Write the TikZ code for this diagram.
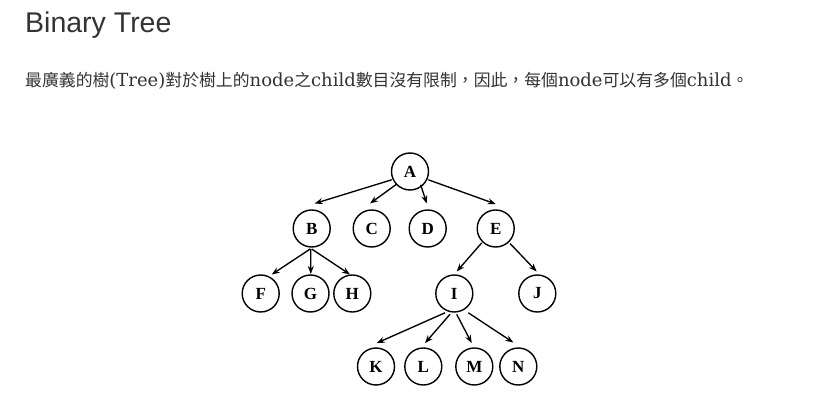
\documentclass[tikz,border=0pt]{standalone}
\usepackage{fontspec}
\setmainfont{Liberation Serif}
\newfontfamily\titlefont{Liberation Sans}
\newfontfamily\latinfont{DejaVu Serif}
\newfontfamily\cjk{Noto Sans CJK TC}
\usetikzlibrary{arrows.meta,calc}
\definecolor{txt}{HTML}{333333}
\newcommand{\lt}[1]{{\latinfont\fontsize{18}{20}\selectfont #1}}
\begin{document}
\begin{tikzpicture}[x=1pt,y=-1pt,
  tn/.style={circle,draw,line width=1.4pt,minimum size=37pt,inner sep=0pt,font=\bfseries\fontsize{17}{17}\selectfont},
  arr/.style={line width=1.35pt,-{Stealth[length=8pt,width=6pt]}}]
\useasboundingbox[fill=white] (0,0) rectangle (830,403);
\node[anchor=base west,inner sep=0pt,text=txt,font=\titlefont\fontsize{28.5}{30}\selectfont] (title) at (25,32.3) {Binary Tree};
\node[anchor=base west,inner sep=0pt,text=txt,font=\cjk\fontsize{16.85}{20}\selectfont] (body) at (25,87) {最廣義的樹\lt{(Tree)}對於樹上的\lt{node}之\lt{child}數目沒有限制，因此，每個\lt{node}可以有多個\lt{child}。};
% nodes
\node[tn] (A) at (410,171.5) {A};
\node[tn] (B) at (311.7,228.5) {B};
\node[tn] (C) at (371.7,228.5) {C};
\node[tn] (D) at (427.7,228.5) {D};
\node[tn] (E) at (495.7,228.5) {E};
\node[tn] (F) at (260.7,293.5) {F};
\node[tn] (G) at (310.5,293.5) {G};
\node[tn] (H) at (352.3,293.5) {H};
\node[tn] (I) at (454.3,293.5) {I};
\node[tn] (J) at (537.3,293.5) {J};
\node[tn] (K) at (376,366.5) {K};
\node[tn] (L) at (423.3,366.5) {L};
\node[tn] (M) at (474.3,366.5) {M};
\node[tn] (N) at (518.3,366.5) {N};
% edges from A
\draw[arr] ($(A)+(-18.3,8.3)$) -- ($(B)+(3,-25)$);
\draw[arr] ($(A)+(-13.3,12.6)$) -- ($(C)+(-1.7,-25)$);
\draw[arr] ($(A)+(10.7,13.3)$) -- ($(D)+(-1,-25)$);
\draw[arr] ($(A)+(18.3,8.3)$) -- ($(E)+(0,-24.5)$);
% edges from B
\draw[arr] ($(B)+(-1.5,20.5)$) -- ($(F)+(11,-19)$);
\draw[arr] ($(B)+(-1,20.5)$) -- ($(G)+(0.3,-19.5)$);
\draw[arr] ($(B)+(0,20.5)$) -- ($(H)+(-2.3,-19)$);
% edges from E
\draw[arr] ($(E)+(-14,14.4)$) -- ($(I)+(2.4,-22)$);
\draw[arr] ($(E)+(14.3,15)$) -- ($(J)+(-0.6,-22)$);
% edges from I
\draw[arr] ($(I)+(-9.3,19.3)$) -- ($(K)+(0.7,-23.4)$);
\draw[arr] ($(I)+(-4.3,20.8)$) -- ($(L)+(1.7,-23.4)$);
\draw[arr] ($(I)+(2.4,20.8)$) -- ($(M)+(-2.6,-23.4)$);
\draw[arr] ($(I)+(14,19.3)$) -- ($(N)+(-5,-24)$);
\end{tikzpicture}
\end{document}
